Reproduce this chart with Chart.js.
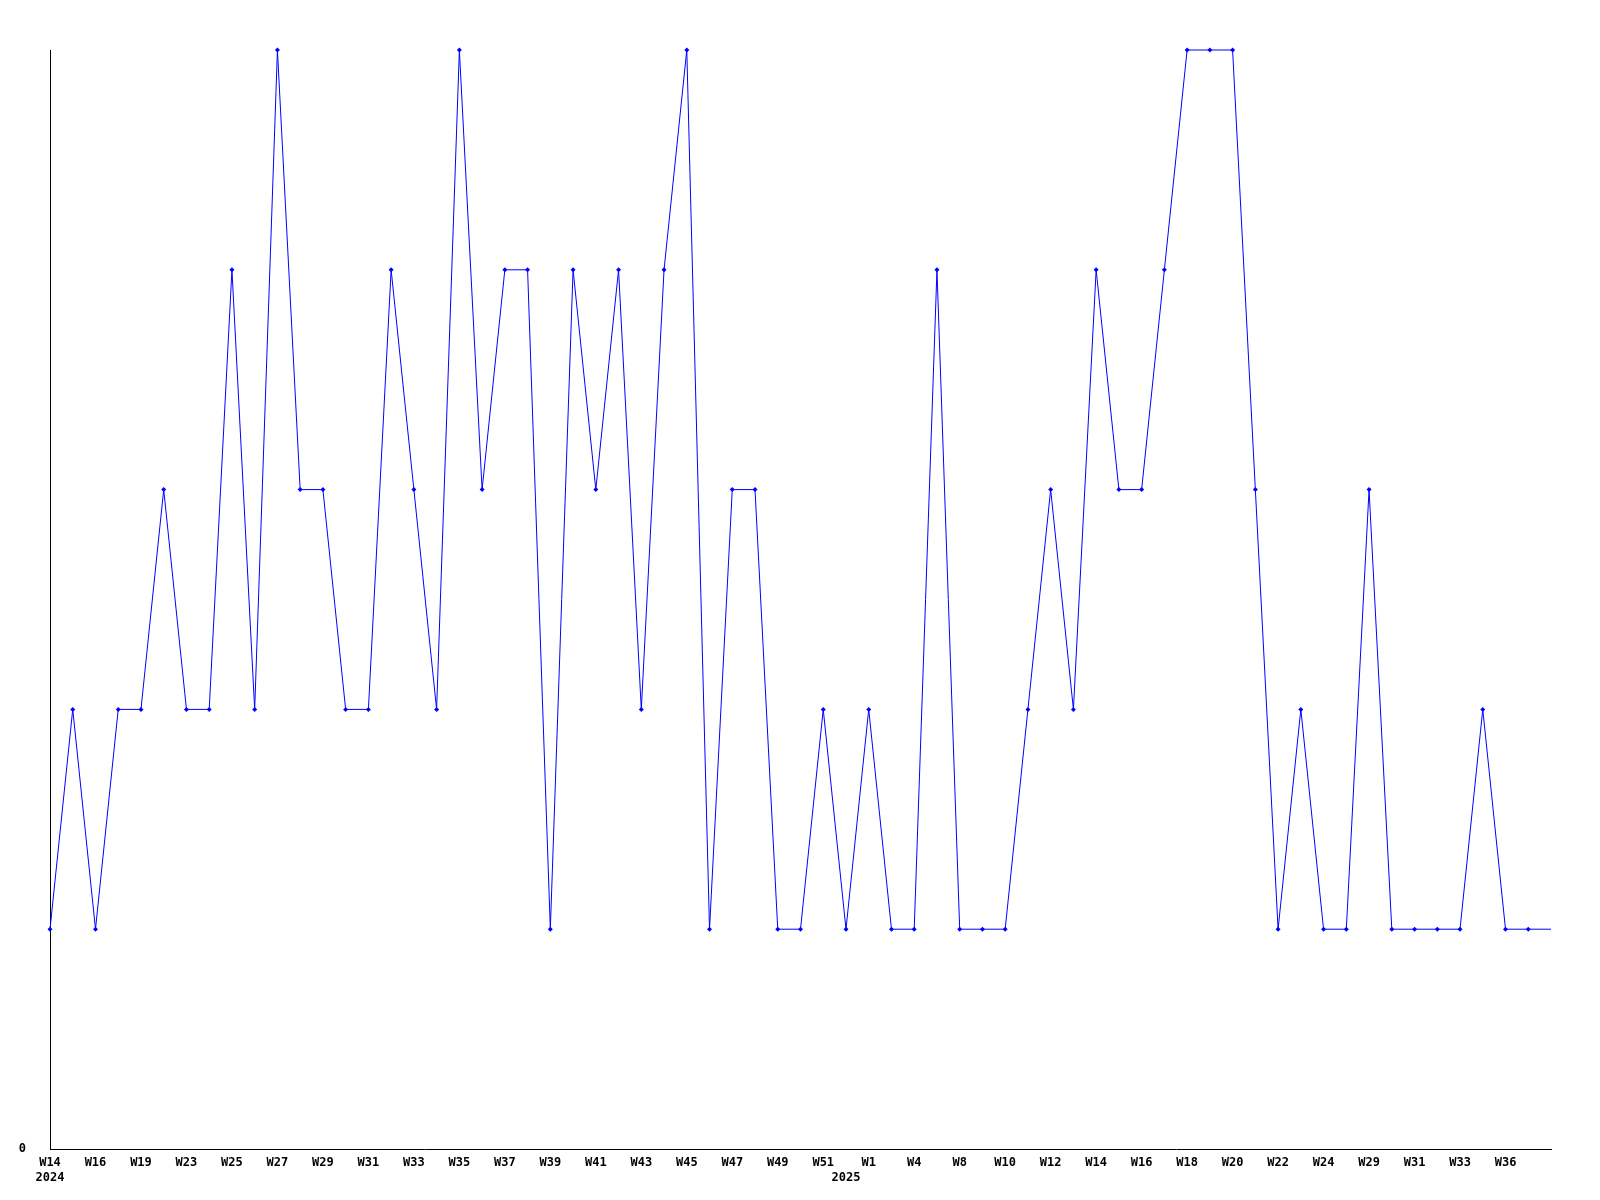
<!DOCTYPE html>
<html>
<head>
<meta charset="utf-8">
<script src="https://cdn.jsdelivr.net/npm/chart.js@4/dist/chart.umd.min.js"></script>
<style>
    html, body { margin: 0; padding: 0; background: #fff; }
    #chart { display: block; }
</style>
</head>
<body>
<canvas id="chart" width="1600" height="1200"></canvas>
<script>
// week categories (only every other one is labelled on the axis)
const weekLabels = ['W14', 'W15', 'W16', 'W17', 'W19', 'W21', 'W23', 'W24', 'W25', 'W26',
    'W27', 'W28', 'W29', 'W30', 'W31', 'W32', 'W33', 'W34', 'W35', 'W36',
    'W37', 'W38', 'W39', 'W40', 'W41', 'W42', 'W43', 'W44', 'W45', 'W46',
    'W47', 'W48', 'W49', 'W50', 'W51', 'W52', 'W1', 'W2', 'W4', 'W6',
    'W8', 'W9', 'W10', 'W11', 'W12', 'W13', 'W14', 'W15', 'W16', 'W17',
    'W18', 'W19', 'W20', 'W21', 'W22', 'W23', 'W24', 'W26', 'W29', 'W30',
    'W31', 'W32', 'W33', 'W35', 'W36', 'W37', 'W38'];

// year line under the axis, keyed by category index
const yearLabels = { 0: '2024', 35: '2025' };

const values = [1, 2, 1, 2, 2, 3, 2, 2, 4, 2,
    5, 3, 3, 2, 2, 4, 3, 2, 5, 3,
    4, 4, 1, 4, 3, 4, 2, 4, 5, 1,
    3, 3, 1, 1, 2, 1, 2, 1, 1, 4,
    1, 1, 1, 2, 3, 2, 4, 3, 3, 4,
    5, 5, 5, 3, 1, 2, 1, 1, 3, 1,
    1, 1, 1, 2, 1, 1, 1];

const yTickLabels = ['0'];

const BLUE = '#0000ff';
const tickFont = { family: '"DejaVu Sans Mono", "Liberation Mono", monospace', size: 12, weight: 'bold', lineHeight: 1.25 };

// last value is only the line running on to the edge, no marker
const lastIdx = values.length - 1;
const radii = values.map((v, i) => i === lastIdx ? 0 : 2.5);

new Chart(document.getElementById('chart'), {
    type: 'line',
    data: {
        labels: weekLabels,
        datasets: [{
            data: values,
            borderColor: BLUE,
            backgroundColor: BLUE,
            borderWidth: 1,
            tension: 0,
            pointStyle: 'rectRot',
            pointRadius: radii,
            pointBorderWidth: 0,
            pointBackgroundColor: BLUE,
            clip: false
        }]
    },
    options: {
        responsive: false,
        animation: false,
        devicePixelRatio: 1,
        layout: { padding: { top: 50, right: 49, left: 0, bottom: 0 } },
        plugins: { legend: { display: false }, tooltip: { enabled: false } },
        scales: {
            x: {
                offset: false,
                grid: { display: false, drawTicks: false },
                border: { display: true, color: '#000', width: 1 },
                afterFit: function (scale) { scale.height = 51; },
                ticks: {
                    autoSkip: false,
                    maxRotation: 0,
                    minRotation: 0,
                    padding: 6,
                    color: '#000',
                    font: tickFont,
                    callback: function (val, idx) {
                        const w = (idx % 2 === 0 && idx !== lastIdx) ? weekLabels[idx] : '';
                        return yearLabels[idx] ? [w, yearLabels[idx]] : w;
                    }
                }
            },
            y: {
                min: 0,
                max: 5,
                grid: { display: false, drawTicks: false },
                border: { display: true, color: '#000', width: 1 },
                afterFit: function (scale) { scale.width = 50; },
                ticks: {
                    stepSize: 5,
                    padding: 24,
                    color: '#000',
                    font: tickFont,
                    callback: function (val) {
                        return val === 0 ? yTickLabels[0] : '';
                    }
                }
            }
        }
    }
});
</script>
</body>
</html>
